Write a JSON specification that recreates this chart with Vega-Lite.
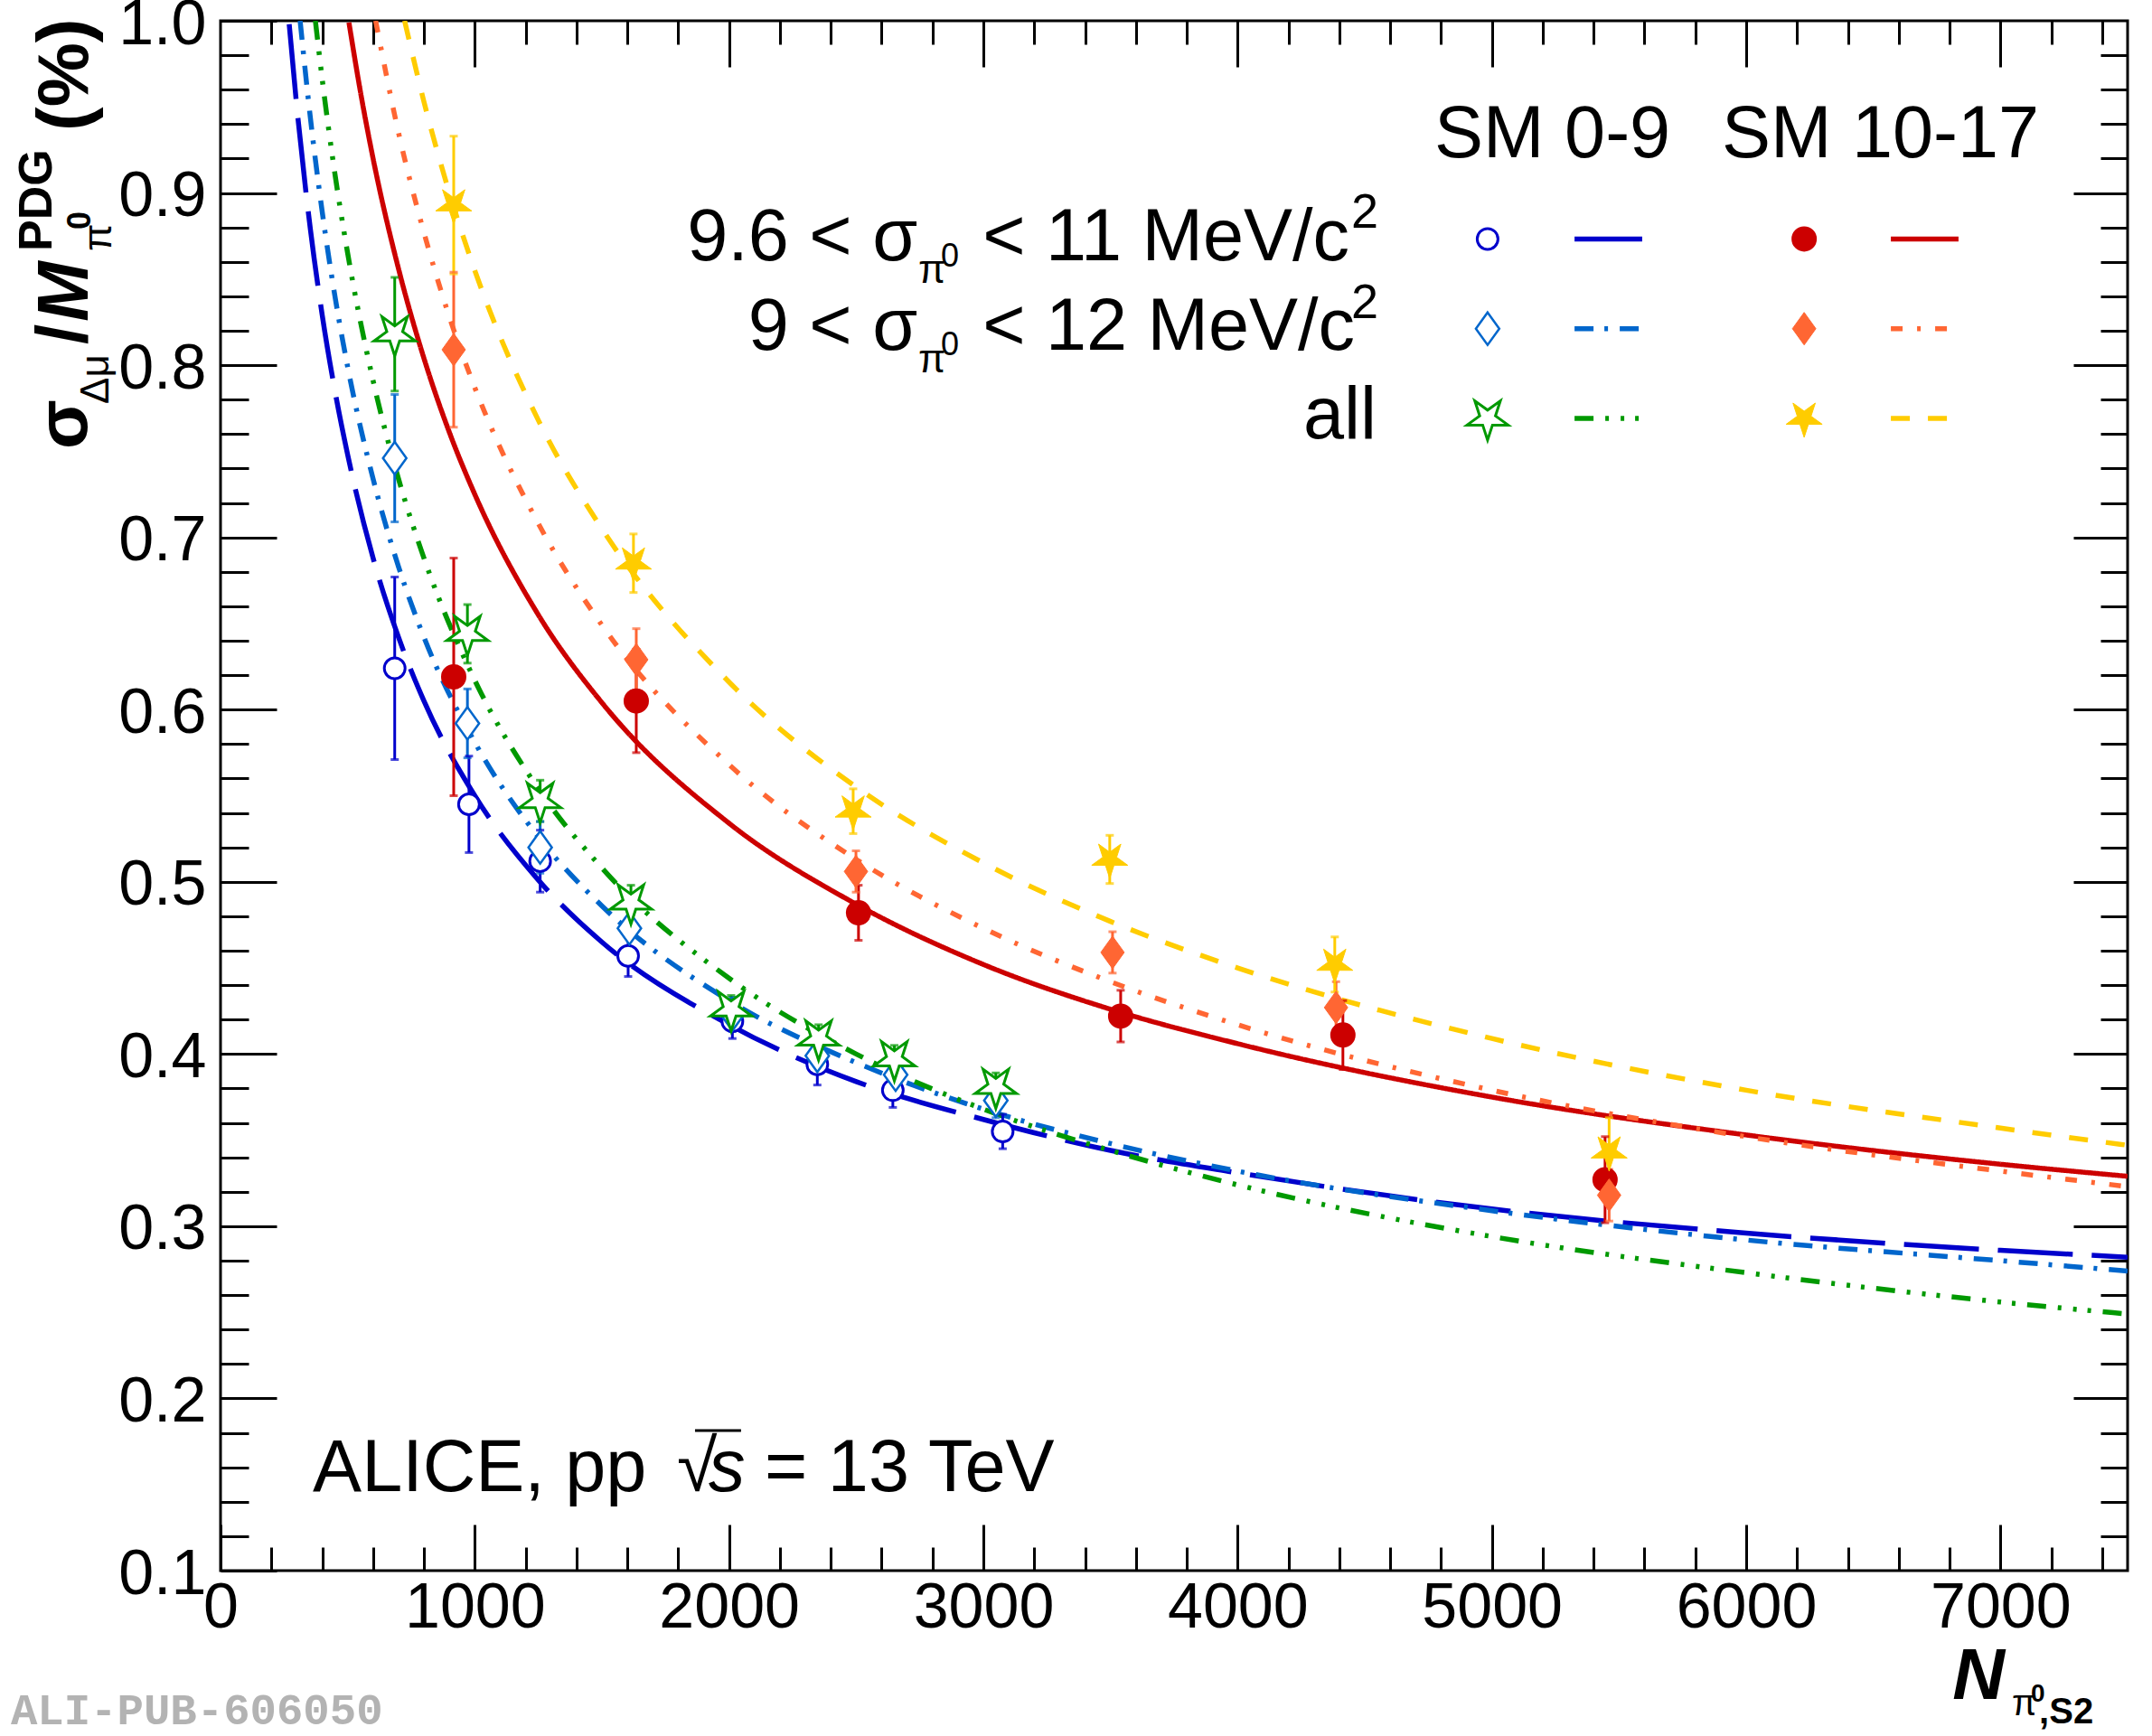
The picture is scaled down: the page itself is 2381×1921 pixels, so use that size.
{
  "$schema": "https://vega.github.io/schema/vega-lite/v6.json",
  "width": 2110,
  "height": 1715,
  "autosize": {"type": "none"},
  "padding": {"left": 244, "top": 23, "right": 27, "bottom": 183},
  "background": "white",
  "datasets": {
    "curves": [
      {"s": "b1", "n": 270, "v": 0.998}, {"s": "b1", "n": 300, "v": 0.95}, {"s": "b1", "n": 350, "v": 0.883},
      {"s": "b1", "n": 400, "v": 0.829}, {"s": "b1", "n": 450, "v": 0.785}, {"s": "b1", "n": 500, "v": 0.748},
      {"s": "b1", "n": 600, "v": 0.688}, {"s": "b1", "n": 700, "v": 0.642}, {"s": "b1", "n": 800, "v": 0.605},
      {"s": "b1", "n": 1000, "v": 0.55}, {"s": "b1", "n": 1250, "v": 0.501}, {"s": "b1", "n": 1500, "v": 0.465},
      {"s": "b1", "n": 2000, "v": 0.417}, {"s": "b1", "n": 2500, "v": 0.384}, {"s": "b1", "n": 3000, "v": 0.362},
      {"s": "b1", "n": 3500, "v": 0.344}, {"s": "b1", "n": 4000, "v": 0.331}, {"s": "b1", "n": 5000, "v": 0.31},
      {"s": "b1", "n": 6000, "v": 0.296}, {"s": "b1", "n": 7000, "v": 0.286}, {"s": "b1", "n": 7500, "v": 0.282},
      {"s": "b2", "n": 313, "v": 1.0}, {"s": "b2", "n": 350, "v": 0.948}, {"s": "b2", "n": 400, "v": 0.889},
      {"s": "b2", "n": 450, "v": 0.84}, {"s": "b2", "n": 500, "v": 0.799}, {"s": "b2", "n": 600, "v": 0.734},
      {"s": "b2", "n": 700, "v": 0.683}, {"s": "b2", "n": 800, "v": 0.642}, {"s": "b2", "n": 1000, "v": 0.581},
      {"s": "b2", "n": 1250, "v": 0.526}, {"s": "b2", "n": 1500, "v": 0.486}, {"s": "b2", "n": 2000, "v": 0.431},
      {"s": "b2", "n": 2500, "v": 0.395}, {"s": "b2", "n": 3000, "v": 0.368}, {"s": "b2", "n": 3500, "v": 0.348},
      {"s": "b2", "n": 4000, "v": 0.332}, {"s": "b2", "n": 5000, "v": 0.309}, {"s": "b2", "n": 6000, "v": 0.292},
      {"s": "b2", "n": 7000, "v": 0.28}, {"s": "b2", "n": 7500, "v": 0.274},
      {"s": "b3", "n": 373, "v": 1.0}, {"s": "b3", "n": 400, "v": 0.966}, {"s": "b3", "n": 450, "v": 0.911},
      {"s": "b3", "n": 500, "v": 0.865}, {"s": "b3", "n": 600, "v": 0.791}, {"s": "b3", "n": 700, "v": 0.734},
      {"s": "b3", "n": 800, "v": 0.688}, {"s": "b3", "n": 1000, "v": 0.617}, {"s": "b3", "n": 1250, "v": 0.554},
      {"s": "b3", "n": 1500, "v": 0.508}, {"s": "b3", "n": 2000, "v": 0.444}, {"s": "b3", "n": 2500, "v": 0.4},
      {"s": "b3", "n": 3000, "v": 0.368}, {"s": "b3", "n": 3500, "v": 0.344}, {"s": "b3", "n": 4000, "v": 0.324},
      {"s": "b3", "n": 5000, "v": 0.294}, {"s": "b3", "n": 6000, "v": 0.273}, {"s": "b3", "n": 7000, "v": 0.256},
      {"s": "b3", "n": 7500, "v": 0.249},
      {"s": "r1", "n": 505, "v": 0.999}, {"s": "r1", "n": 550, "v": 0.959}, {"s": "r1", "n": 600, "v": 0.92},
      {"s": "r1", "n": 700, "v": 0.856}, {"s": "r1", "n": 800, "v": 0.804}, {"s": "r1", "n": 900, "v": 0.761},
      {"s": "r1", "n": 1000, "v": 0.725}, {"s": "r1", "n": 1250, "v": 0.655}, {"s": "r1", "n": 1500, "v": 0.604},
      {"s": "r1", "n": 2000, "v": 0.534}, {"s": "r1", "n": 2500, "v": 0.487}, {"s": "r1", "n": 3000, "v": 0.452},
      {"s": "r1", "n": 3500, "v": 0.426}, {"s": "r1", "n": 4000, "v": 0.406}, {"s": "r1", "n": 5000, "v": 0.375},
      {"s": "r1", "n": 6000, "v": 0.353}, {"s": "r1", "n": 7000, "v": 0.336}, {"s": "r1", "n": 7500, "v": 0.329},
      {"s": "r2", "n": 610, "v": 1.0}, {"s": "r2", "n": 700, "v": 0.935}, {"s": "r2", "n": 800, "v": 0.877},
      {"s": "r2", "n": 900, "v": 0.828}, {"s": "r2", "n": 1000, "v": 0.787}, {"s": "r2", "n": 1250, "v": 0.708},
      {"s": "r2", "n": 1500, "v": 0.649}, {"s": "r2", "n": 2000, "v": 0.568}, {"s": "r2", "n": 2500, "v": 0.513},
      {"s": "r2", "n": 3000, "v": 0.473}, {"s": "r2", "n": 3500, "v": 0.442}, {"s": "r2", "n": 4000, "v": 0.417},
      {"s": "r2", "n": 5000, "v": 0.379}, {"s": "r2", "n": 6000, "v": 0.352}, {"s": "r2", "n": 7000, "v": 0.332},
      {"s": "r2", "n": 7500, "v": 0.323},
      {"s": "r3", "n": 724, "v": 1.0}, {"s": "r3", "n": 800, "v": 0.953}, {"s": "r3", "n": 900, "v": 0.9},
      {"s": "r3", "n": 1000, "v": 0.855}, {"s": "r3", "n": 1250, "v": 0.768}, {"s": "r3", "n": 1500, "v": 0.705},
      {"s": "r3", "n": 2000, "v": 0.616}, {"s": "r3", "n": 2500, "v": 0.555}, {"s": "r3", "n": 3000, "v": 0.511},
      {"s": "r3", "n": 3500, "v": 0.477}, {"s": "r3", "n": 4000, "v": 0.45}, {"s": "r3", "n": 5000, "v": 0.409},
      {"s": "r3", "n": 6000, "v": 0.379}, {"s": "r3", "n": 7000, "v": 0.357}, {"s": "r3", "n": 7500, "v": 0.347}
    ],
    "pts": [
      {"s": "b1", "n": 685, "v": 0.624, "lo": 0.571, "hi": 0.677},
      {"s": "b1", "n": 977, "v": 0.545, "lo": 0.517, "hi": 0.573},
      {"s": "b1", "n": 1257, "v": 0.512, "lo": 0.494, "hi": 0.53},
      {"s": "b1", "n": 1603, "v": 0.457, "lo": 0.445, "hi": 0.469},
      {"s": "b1", "n": 2013, "v": 0.419, "lo": 0.409, "hi": 0.429},
      {"s": "b1", "n": 2347, "v": 0.394, "lo": 0.382, "hi": 0.406},
      {"s": "b1", "n": 2644, "v": 0.379, "lo": 0.369, "hi": 0.389},
      {"s": "b1", "n": 3076, "v": 0.355, "lo": 0.345, "hi": 0.365},
      {"s": "b2", "n": 685, "v": 0.746, "lo": 0.709, "hi": 0.783},
      {"s": "b2", "n": 971, "v": 0.592, "lo": 0.572, "hi": 0.612},
      {"s": "b2", "n": 1257, "v": 0.52, "lo": 0.505, "hi": 0.535},
      {"s": "b2", "n": 1608, "v": 0.473, "lo": 0.462, "hi": 0.484},
      {"s": "b2", "n": 2013, "v": 0.423, "lo": 0.413, "hi": 0.433},
      {"s": "b2", "n": 2347, "v": 0.399, "lo": 0.389, "hi": 0.409},
      {"s": "b2", "n": 2655, "v": 0.388, "lo": 0.378, "hi": 0.398},
      {"s": "b2", "n": 3049, "v": 0.373, "lo": 0.363, "hi": 0.383},
      {"s": "b3", "n": 685, "v": 0.818, "lo": 0.785, "hi": 0.851},
      {"s": "b3", "n": 971, "v": 0.644, "lo": 0.627, "hi": 0.661},
      {"s": "b3", "n": 1257, "v": 0.547, "lo": 0.535, "hi": 0.559},
      {"s": "b3", "n": 1614, "v": 0.488, "lo": 0.478, "hi": 0.498},
      {"s": "b3", "n": 2008, "v": 0.426, "lo": 0.418, "hi": 0.434},
      {"s": "b3", "n": 2352, "v": 0.409, "lo": 0.401, "hi": 0.417},
      {"s": "b3", "n": 2650, "v": 0.397, "lo": 0.389, "hi": 0.405},
      {"s": "b3", "n": 3049, "v": 0.381, "lo": 0.373, "hi": 0.389},
      {"s": "r1", "n": 917, "v": 0.619, "lo": 0.55, "hi": 0.688},
      {"s": "r1", "n": 1635, "v": 0.605, "lo": 0.575, "hi": 0.635},
      {"s": "r1", "n": 2509, "v": 0.482, "lo": 0.466, "hi": 0.498},
      {"s": "r1", "n": 3540, "v": 0.422, "lo": 0.407, "hi": 0.437},
      {"s": "r1", "n": 4414, "v": 0.411, "lo": 0.391, "hi": 0.431},
      {"s": "r1", "n": 5445, "v": 0.327, "lo": 0.302, "hi": 0.352},
      {"s": "r2", "n": 917, "v": 0.809, "lo": 0.764, "hi": 0.854},
      {"s": "r2", "n": 1635, "v": 0.629, "lo": 0.611, "hi": 0.647},
      {"s": "r2", "n": 2499, "v": 0.506, "lo": 0.494, "hi": 0.518},
      {"s": "r2", "n": 3508, "v": 0.459, "lo": 0.447, "hi": 0.471},
      {"s": "r2", "n": 4387, "v": 0.427, "lo": 0.412, "hi": 0.442},
      {"s": "r2", "n": 5461, "v": 0.318, "lo": 0.303, "hi": 0.333},
      {"s": "r3", "n": 917, "v": 0.893, "lo": 0.853, "hi": 0.933},
      {"s": "r3", "n": 1624, "v": 0.685, "lo": 0.668, "hi": 0.702},
      {"s": "r3", "n": 2488, "v": 0.541, "lo": 0.528, "hi": 0.554},
      {"s": "r3", "n": 3497, "v": 0.513, "lo": 0.499, "hi": 0.527},
      {"s": "r3", "n": 4382, "v": 0.452, "lo": 0.436, "hi": 0.468},
      {"s": "r3", "n": 5461, "v": 0.343, "lo": 0.323, "hi": 0.363},
      {"s": "b1", "n": 4983, "v": 0.8733},
      {"s": "b2", "n": 4983, "v": 0.8212},
      {"s": "b3", "n": 4983, "v": 0.7691},
      {"s": "r1", "n": 6228, "v": 0.8733},
      {"s": "r2", "n": 6228, "v": 0.8212},
      {"s": "r3", "n": 6228, "v": 0.7691}
    ],
    "legline": [
      {"s": "b1", "n": 5325, "n2": 5591, "v": 0.8733},
      {"s": "b2", "n": 5325, "n2": 5591, "v": 0.8212},
      {"s": "b3", "n": 5325, "n2": 5591, "v": 0.7691},
      {"s": "r1", "n": 6569, "n2": 6835, "v": 0.8733},
      {"s": "r2", "n": 6569, "n2": 6835, "v": 0.8212},
      {"s": "r3", "n": 6569, "n2": 6835, "v": 0.7691}
    ]
  },
  "resolve": {"axis": {"x": "independent", "y": "independent"}},
  "layer": [
    {
      "data": {"name": "curves"},
      "mark": {"type": "line", "interpolate": "monotone", "strokeWidth": 5.5, "clip": true},
      "encoding": {
        "x": {"field": "n", "type": "quantitative", "scale": {"domain": [0, 7500], "nice": false, "zero": false},
          "axis": {"orient": "bottom", "values": [0, 1000, 2000, 3000, 4000, 5000, 6000, 7000], "tickSize": -51, "labelPadding": 58, "format": "d", "title": null}},
        "y": {"field": "v", "type": "quantitative", "scale": {"domain": [0.1, 1.0], "nice": false, "zero": false},
          "axis": {"orient": "left", "values": [0.1, 0.2, 0.3, 0.4, 0.5, 0.6, 0.7, 0.8, 0.9, 1.0], "tickSize": -62, "labelPadding": 78, "labelBaseline": "alphabetic", "labelOffset": 25, "format": ".1f", "title": null}},
        "color": {"field": "s", "type": "nominal", "legend": null,
          "scale": {"domain": ["b1", "b2", "b3", "r1", "r2", "r3"], "range": ["#0000cc", "#0066cc", "#009900", "#cc0000", "#ff6633", "#ffcc00"]}},
        "strokeDash": {"field": "s", "type": "nominal", "legend": null,
          "scale": {"domain": ["b1", "b2", "b3", "r1", "r2", "r3"], "range": [[83, 21], [21, 12, 4, 13], [21, 13, 4, 13, 4, 12, 4, 13], [1, 0], [13, 16, 4, 16], [21, 20]]}}
      }
    },
    {
      "data": {"name": "legline"},
      "mark": {"type": "rule", "strokeWidth": 5.5},
      "encoding": {
        "x": {"field": "n", "type": "quantitative", "scale": {"domain": [0, 7500], "nice": false, "zero": false},
          "axis": {"orient": "bottom", "values": [200, 400, 600, 800, 1200, 1400, 1600, 1800, 2200, 2400, 2600, 2800, 3200, 3400, 3600, 3800, 4200, 4400, 4600, 4800, 5200, 5400, 5600, 5800, 6200, 6400, 6600, 6800, 7200, 7400], "tickSize": -26, "labels": false, "title": null}},
        "x2": {"field": "n2"},
        "y": {"field": "v", "type": "quantitative", "scale": {"domain": [0.1, 1.0], "nice": false, "zero": false},
          "axis": {"orient": "left", "values": [0.12, 0.14, 0.16, 0.18, 0.22, 0.24, 0.26, 0.28, 0.32, 0.34, 0.36, 0.38, 0.42, 0.44, 0.46, 0.48, 0.52, 0.54, 0.56, 0.58, 0.62, 0.64, 0.66, 0.68, 0.72, 0.74, 0.76, 0.78, 0.82, 0.84, 0.86, 0.88, 0.92, 0.94, 0.96, 0.98], "tickSize": -31, "labels": false, "title": null}},
        "color": {"field": "s", "type": "nominal", "legend": null,
          "scale": {"domain": ["b1", "b2", "b3", "r1", "r2", "r3"], "range": ["#0000cc", "#0066cc", "#009900", "#cc0000", "#ff6633", "#ffcc00"]}},
        "strokeDash": {"field": "s", "type": "nominal", "legend": null,
          "scale": {"domain": ["b1", "b2", "b3", "r1", "r2", "r3"], "range": [[83, 21], [21, 12, 4, 13], [21, 13, 4, 13, 4, 12, 4, 13], [1, 0], [13, 16, 4, 16], [21, 20]]}}
      }
    },
    {
      "data": {"name": "pts"},
      "transform": [{"filter": "isValid(datum.lo)"}],
      "mark": {"type": "rule", "strokeWidth": 3},
      "encoding": {
        "x": {"field": "n", "type": "quantitative", "scale": {"domain": [0, 7500], "nice": false, "zero": false},
          "axis": {"orient": "top", "values": [1000, 2000, 3000, 4000, 5000, 6000, 7000], "tickSize": -51, "labels": false, "title": null}},
        "y": {"field": "lo", "type": "quantitative", "scale": {"domain": [0.1, 1.0], "nice": false, "zero": false},
          "axis": {"orient": "right", "values": [0.2, 0.3, 0.4, 0.5, 0.6, 0.7, 0.8, 0.9], "tickSize": -60, "labels": false, "title": null}},
        "y2": {"field": "hi"},
        "color": {"field": "s", "type": "nominal", "legend": null,
          "scale": {"domain": ["b1", "b2", "b3", "r1", "r2", "r3"], "range": ["#0000cc", "#0066cc", "#009900", "#cc0000", "#ff6633", "#ffcc00"]}}
      }
    },
    {
      "data": {"name": "pts"},
      "transform": [{"filter": "isValid(datum.lo)"}],
      "mark": {"type": "tick", "orient": "horizontal", "size": 9, "thickness": 3},
      "encoding": {
        "x": {"field": "n", "type": "quantitative", "scale": {"domain": [0, 7500], "nice": false, "zero": false},
          "axis": {"orient": "top", "values": [200, 400, 600, 800, 1200, 1400, 1600, 1800, 2200, 2400, 2600, 2800, 3200, 3400, 3600, 3800, 4200, 4400, 4600, 4800, 5200, 5400, 5600, 5800, 6200, 6400, 6600, 6800, 7200, 7400], "tickSize": -26, "labels": false, "title": null}},
        "y": {"field": "lo", "type": "quantitative", "scale": {"domain": [0.1, 1.0], "nice": false, "zero": false},
          "axis": {"orient": "right", "values": [0.12, 0.14, 0.16, 0.18, 0.22, 0.24, 0.26, 0.28, 0.32, 0.34, 0.36, 0.38, 0.42, 0.44, 0.46, 0.48, 0.52, 0.54, 0.56, 0.58, 0.62, 0.64, 0.66, 0.68, 0.72, 0.74, 0.76, 0.78, 0.82, 0.84, 0.86, 0.88, 0.92, 0.94, 0.96, 0.98], "tickSize": -30, "labels": false, "title": null}},
        "color": {"field": "s", "type": "nominal", "legend": null,
          "scale": {"domain": ["b1", "b2", "b3", "r1", "r2", "r3"], "range": ["#0000cc", "#0066cc", "#009900", "#cc0000", "#ff6633", "#ffcc00"]}}
      }
    },
    {
      "data": {"name": "pts"},
      "transform": [{"filter": "isValid(datum.lo)"}],
      "mark": {"type": "tick", "orient": "horizontal", "size": 9, "thickness": 3},
      "encoding": {
        "x": {"field": "n", "type": "quantitative", "scale": {"domain": [0, 7500], "nice": false, "zero": false}, "axis": null},
        "y": {"field": "hi", "type": "quantitative", "scale": {"domain": [0.1, 1.0], "nice": false, "zero": false}, "axis": null},
        "color": {"field": "s", "type": "nominal", "legend": null,
          "scale": {"domain": ["b1", "b2", "b3", "r1", "r2", "r3"], "range": ["#0000cc", "#0066cc", "#009900", "#cc0000", "#ff6633", "#ffcc00"]}}
      }
    },
    {
      "data": {"name": "pts"},
      "transform": [{"filter": {"field": "s", "equal": "b1"}}],
      "mark": {"type": "point", "shape": "circle", "size": 529, "filled": true, "fill": "white", "stroke": "#0000cc", "strokeWidth": 3, "opacity": 1},
      "encoding": {
        "x": {"field": "n", "type": "quantitative", "scale": {"domain": [0, 7500], "nice": false, "zero": false}, "axis": null},
        "y": {"field": "v", "type": "quantitative", "scale": {"domain": [0.1, 1.0], "nice": false, "zero": false}, "axis": null}
      }
    },
    {
      "data": {"name": "pts"},
      "transform": [{"filter": {"field": "s", "equal": "b2"}}],
      "mark": {"type": "point", "shape": "M0,-1L0.72,0L0,1L-0.72,0Z", "size": 1296, "filled": true, "fill": "white", "stroke": "#0066cc", "strokeWidth": 2.5, "opacity": 1},
      "encoding": {
        "x": {"field": "n", "type": "quantitative", "scale": {"domain": [0, 7500], "nice": false, "zero": false}, "axis": null},
        "y": {"field": "v", "type": "quantitative", "scale": {"domain": [0.1, 1.0], "nice": false, "zero": false}, "axis": null}
      }
    },
    {
      "data": {"name": "pts"},
      "transform": [{"filter": {"field": "s", "equal": "b3"}}],
      "mark": {"type": "point", "shape": "M0,1L-0.225,0.309L-0.951,0.309L-0.363,-0.118L-0.588,-0.809L0,-0.382L0.588,-0.809L0.363,-0.118L0.951,0.309L0.225,0.309Z", "size": 2304, "filled": true, "fill": "white", "stroke": "#009900", "strokeWidth": 3, "opacity": 1},
      "encoding": {
        "x": {"field": "n", "type": "quantitative", "scale": {"domain": [0, 7500], "nice": false, "zero": false}, "axis": null},
        "y": {"field": "v", "type": "quantitative", "scale": {"domain": [0.1, 1.0], "nice": false, "zero": false}, "axis": null}
      }
    },
    {
      "data": {"name": "pts"},
      "transform": [{"filter": {"field": "s", "equal": "r1"}}],
      "mark": {"type": "point", "shape": "circle", "size": 676, "filled": true, "fill": "#cc0000", "stroke": "#cc0000", "strokeWidth": 2, "opacity": 1},
      "encoding": {
        "x": {"field": "n", "type": "quantitative", "scale": {"domain": [0, 7500], "nice": false, "zero": false}, "axis": null},
        "y": {"field": "v", "type": "quantitative", "scale": {"domain": [0.1, 1.0], "nice": false, "zero": false}, "axis": null}
      }
    },
    {
      "data": {"name": "pts"},
      "transform": [{"filter": {"field": "s", "equal": "r2"}}],
      "mark": {"type": "point", "shape": "M0,-1L0.72,0L0,1L-0.72,0Z", "size": 1296, "filled": true, "fill": "#ff6633", "stroke": "#ff6633", "strokeWidth": 1, "opacity": 1},
      "encoding": {
        "x": {"field": "n", "type": "quantitative", "scale": {"domain": [0, 7500], "nice": false, "zero": false}, "axis": null},
        "y": {"field": "v", "type": "quantitative", "scale": {"domain": [0.1, 1.0], "nice": false, "zero": false}, "axis": null}
      }
    },
    {
      "data": {"name": "pts"},
      "transform": [{"filter": {"field": "s", "equal": "r3"}}],
      "mark": {"type": "point", "shape": "M0,1L-0.225,0.309L-0.951,0.309L-0.363,-0.118L-0.588,-0.809L0,-0.382L0.588,-0.809L0.363,-0.118L0.951,0.309L0.225,0.309Z", "size": 1764, "filled": true, "fill": "#ffcc00", "stroke": "#ffcc00", "strokeWidth": 1, "opacity": 1},
      "encoding": {
        "x": {"field": "n", "type": "quantitative", "scale": {"domain": [0, 7500], "nice": false, "zero": false}, "axis": null},
        "y": {"field": "v", "type": "quantitative", "scale": {"domain": [0.1, 1.0], "nice": false, "zero": false}, "axis": null}
      }
    },
    {
      "data": {"values": [
        {"t": "9.6 < σ", "n": 2741, "v": 0.8608},
        {"t": "9 < σ", "n": 2741, "v": 0.8091},
        {"t": "all", "n": 4546, "v": 0.7576}
      ]},
      "mark": {"type": "text", "align": "right", "baseline": "alphabetic", "font": "Liberation Sans", "fontSize": 81, "color": "black"},
      "encoding": {
        "x": {"field": "n", "type": "quantitative", "scale": {"domain": [0, 7500], "nice": false, "zero": false}, "axis": null},
        "y": {"field": "v", "type": "quantitative", "scale": {"domain": [0.1, 1.0], "nice": false, "zero": false}, "axis": null},
        "text": {"field": "t"}
      }
    },
    {
      "data": {"values": [
        {"t": "< 11 MeV/c", "n": 2997, "v": 0.8608},
        {"t": "< 12 MeV/c", "n": 2997, "v": 0.8091},
        {"t": "SM 0-9", "n": 4774, "v": 0.9208},
        {"t": "SM 10-17", "n": 5904, "v": 0.9208},
        {"t": "ALICE, pp", "n": 363, "v": 0.1462},
        {"t": "√", "n": 1795, "v": 0.1462},
        {"t": "= 13 TeV", "n": 2140, "v": 0.1462}
      ]},
      "mark": {"type": "text", "align": "left", "baseline": "alphabetic", "font": "Liberation Sans", "fontSize": 81, "color": "black"},
      "encoding": {
        "x": {"field": "n", "type": "quantitative", "scale": {"domain": [0, 7500], "nice": false, "zero": false}, "axis": null},
        "y": {"field": "v", "type": "quantitative", "scale": {"domain": [0.1, 1.0], "nice": false, "zero": false}, "axis": null},
        "text": {"field": "t"}
      }
    },
    {
      "data": {"values": [{"t": "s", "n": 1919, "v": 0.1462}]},
      "mark": {"type": "text", "align": "left", "baseline": "alphabetic", "font": "Liberation Sans", "fontStyle": "italic", "fontSize": 81, "color": "black"},
      "encoding": {
        "x": {"field": "n", "type": "quantitative", "scale": {"domain": [0, 7500], "nice": false, "zero": false}, "axis": null},
        "y": {"field": "v", "type": "quantitative", "scale": {"domain": [0.1, 1.0], "nice": false, "zero": false}, "axis": null},
        "text": {"field": "t"}
      }
    },
    {
      "data": {"values": [{"n": 1866, "n2": 2047, "v": 0.1814}]},
      "mark": {"type": "rule", "strokeWidth": 3, "color": "black"},
      "encoding": {
        "x": {"field": "n", "type": "quantitative", "scale": {"domain": [0, 7500], "nice": false, "zero": false}, "axis": null},
        "x2": {"field": "n2"},
        "y": {"field": "v", "type": "quantitative", "scale": {"domain": [0.1, 1.0], "nice": false, "zero": false}, "axis": null}
      }
    },
    {
      "data": {"values": [
        {"t": "π", "n": 2744, "v": 0.8478},
        {"t": "π", "n": 2744, "v": 0.796}
      ]},
      "mark": {"type": "text", "align": "left", "baseline": "alphabetic", "font": "Liberation Sans", "fontSize": 44, "color": "black"},
      "encoding": {
        "x": {"field": "n", "type": "quantitative", "scale": {"domain": [0, 7500], "nice": false, "zero": false}, "axis": null},
        "y": {"field": "v", "type": "quantitative", "scale": {"domain": [0.1, 1.0], "nice": false, "zero": false}, "axis": null},
        "text": {"field": "t"}
      }
    },
    {
      "data": {"values": [
        {"t": "0", "n": 2833, "v": 0.8573},
        {"t": "0", "n": 2833, "v": 0.8057}
      ]},
      "mark": {"type": "text", "align": "left", "baseline": "alphabetic", "font": "Liberation Sans", "fontSize": 36, "color": "black"},
      "encoding": {
        "x": {"field": "n", "type": "quantitative", "scale": {"domain": [0, 7500], "nice": false, "zero": false}, "axis": null},
        "y": {"field": "v", "type": "quantitative", "scale": {"domain": [0.1, 1.0], "nice": false, "zero": false}, "axis": null},
        "text": {"field": "t"}
      }
    },
    {
      "data": {"values": [
        {"t": "2", "n": 4447, "v": 0.8798},
        {"t": "2", "n": 4447, "v": 0.8274}
      ]},
      "mark": {"type": "text", "align": "left", "baseline": "alphabetic", "font": "Liberation Sans", "fontSize": 54, "color": "black"},
      "encoding": {
        "x": {"field": "n", "type": "quantitative", "scale": {"domain": [0, 7500], "nice": false, "zero": false}, "axis": null},
        "y": {"field": "v", "type": "quantitative", "scale": {"domain": [0.1, 1.0], "nice": false, "zero": false}, "axis": null},
        "text": {"field": "t"}
      }
    },
    {
      "data": {"values": [{"t": "N", "n": 6811, "v": 0.0255}]},
      "mark": {"type": "text", "align": "left", "baseline": "alphabetic", "font": "Liberation Sans", "fontWeight": "bold", "fontStyle": "italic", "fontSize": 80, "color": "black"},
      "encoding": {
        "x": {"field": "n", "type": "quantitative", "scale": {"domain": [0, 7500], "nice": false, "zero": false}, "axis": null},
        "y": {"field": "v", "type": "quantitative", "scale": {"domain": [0.1, 1.0], "nice": false, "zero": false}, "axis": null},
        "text": {"field": "t"}
      }
    },
    {
      "data": {"values": [{"t": "π", "n": 7045, "v": 0.0161}]},
      "mark": {"type": "text", "align": "left", "baseline": "alphabetic", "font": "Liberation Sans", "fontSize": 40, "color": "black"},
      "encoding": {
        "x": {"field": "n", "type": "quantitative", "scale": {"domain": [0, 7500], "nice": false, "zero": false}, "axis": null},
        "y": {"field": "v", "type": "quantitative", "scale": {"domain": [0.1, 1.0], "nice": false, "zero": false}, "axis": null},
        "text": {"field": "t"}
      }
    },
    {
      "data": {"values": [{"t": "0", "n": 7120, "v": 0.0239}]},
      "mark": {"type": "text", "align": "left", "baseline": "alphabetic", "font": "Liberation Sans", "fontWeight": "bold", "fontSize": 28, "color": "black"},
      "encoding": {
        "x": {"field": "n", "type": "quantitative", "scale": {"domain": [0, 7500], "nice": false, "zero": false}, "axis": null},
        "y": {"field": "v", "type": "quantitative", "scale": {"domain": [0.1, 1.0], "nice": false, "zero": false}, "axis": null},
        "text": {"field": "t"}
      }
    },
    {
      "data": {"values": [{"t": ",S2", "n": 7152, "v": 0.0112}]},
      "mark": {"type": "text", "align": "left", "baseline": "alphabetic", "font": "Liberation Sans", "fontWeight": "bold", "fontSize": 40, "color": "black"},
      "encoding": {
        "x": {"field": "n", "type": "quantitative", "scale": {"domain": [0, 7500], "nice": false, "zero": false}, "axis": null},
        "y": {"field": "v", "type": "quantitative", "scale": {"domain": [0.1, 1.0], "nice": false, "zero": false}, "axis": null},
        "text": {"field": "t"}
      }
    },
    {
      "data": {"values": [{"t": "ALI-PUB-606050", "n": -825, "v": 0.0108}]},
      "mark": {"type": "text", "align": "left", "baseline": "alphabetic", "font": "Liberation Mono", "fontWeight": "bold", "fontSize": 49, "color": "#b3b3b3"},
      "encoding": {
        "x": {"field": "n", "type": "quantitative", "scale": {"domain": [0, 7500], "nice": false, "zero": false}, "axis": null},
        "y": {"field": "v", "type": "quantitative", "scale": {"domain": [0.1, 1.0], "nice": false, "zero": false}, "axis": null},
        "text": {"field": "t"}
      }
    },
    {
      "data": {"values": [
        {"t": "σ", "n": -526, "v": 0.7513},
        {"t": "/", "n": -526, "v": 0.8121},
        {"t": "(%)", "n": -523, "v": 0.936}
      ]},
      "mark": {"type": "text", "angle": 270, "align": "left", "baseline": "alphabetic", "font": "Liberation Sans", "fontWeight": "bold", "fontSize": 80, "color": "black"},
      "encoding": {
        "x": {"field": "n", "type": "quantitative", "scale": {"domain": [0, 7500], "nice": false, "zero": false}, "axis": null},
        "y": {"field": "v", "type": "quantitative", "scale": {"domain": [0.1, 1.0], "nice": false, "zero": false}, "axis": null},
        "text": {"field": "t"}
      }
    },
    {
      "data": {"values": [{"t": "M", "n": -523, "v": 0.8253}]},
      "mark": {"type": "text", "angle": 270, "align": "left", "baseline": "alphabetic", "font": "Liberation Sans", "fontWeight": "bold", "fontStyle": "italic", "fontSize": 80, "color": "black"},
      "encoding": {
        "x": {"field": "n", "type": "quantitative", "scale": {"domain": [0, 7500], "nice": false, "zero": false}, "axis": null},
        "y": {"field": "v", "type": "quantitative", "scale": {"domain": [0.1, 1.0], "nice": false, "zero": false}, "axis": null},
        "text": {"field": "t"}
      }
    },
    {
      "data": {"values": [
        {"t": "Δμ", "n": -441, "v": 0.7775},
        {"t": "π", "n": -430, "v": 0.8662}
      ]},
      "mark": {"type": "text", "angle": 270, "align": "left", "baseline": "alphabetic", "font": "Liberation Sans", "fontSize": 44, "color": "black"},
      "encoding": {
        "x": {"field": "n", "type": "quantitative", "scale": {"domain": [0, 7500], "nice": false, "zero": false}, "axis": null},
        "y": {"field": "v", "type": "quantitative", "scale": {"domain": [0.1, 1.0], "nice": false, "zero": false}, "axis": null},
        "text": {"field": "t"}
      }
    },
    {
      "data": {"values": [{"t": "0", "n": -512, "v": 0.8788}]},
      "mark": {"type": "text", "angle": 270, "align": "left", "baseline": "alphabetic", "font": "Liberation Sans", "fontWeight": "bold", "fontSize": 36, "color": "black"},
      "encoding": {
        "x": {"field": "n", "type": "quantitative", "scale": {"domain": [0, 7500], "nice": false, "zero": false}, "axis": null},
        "y": {"field": "v", "type": "quantitative", "scale": {"domain": [0.1, 1.0], "nice": false, "zero": false}, "axis": null},
        "text": {"field": "t"}
      }
    },
    {
      "data": {"values": [{"t": "PDG", "n": -665, "v": 0.8662}]},
      "mark": {"type": "text", "angle": 270, "align": "left", "baseline": "alphabetic", "font": "Liberation Sans", "fontWeight": "bold", "fontSize": 52, "color": "black"},
      "encoding": {
        "x": {"field": "n", "type": "quantitative", "scale": {"domain": [0, 7500], "nice": false, "zero": false}, "axis": null},
        "y": {"field": "v", "type": "quantitative", "scale": {"domain": [0.1, 1.0], "nice": false, "zero": false}, "axis": null},
        "text": {"field": "t"}
      }
    }
  ],
  "config": {
    "view": {"stroke": "black", "strokeWidth": 3},
    "font": "Liberation Sans",
    "axis": {
      "grid": false,
      "domain": false,
      "tickColor": "black",
      "tickWidth": 3,
      "labelColor": "black",
      "labelFont": "Liberation Sans",
      "labelFontSize": 70,
      "labelFlush": false,
      "labelOverlap": false,
      "labelBound": false
    }
  }
}
